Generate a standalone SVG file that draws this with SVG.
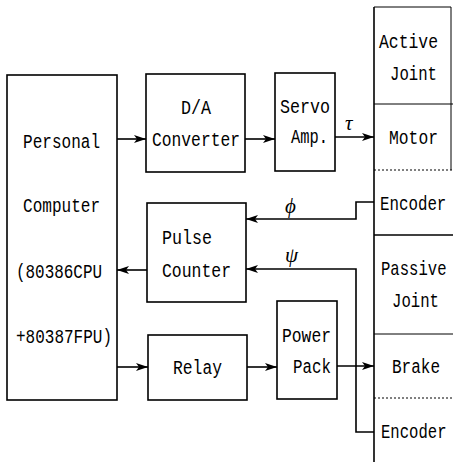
<svg xmlns="http://www.w3.org/2000/svg" width="453" height="462" viewBox="0 0 453 462">
<style>
.box{fill:none;stroke:#000;stroke-width:1.6}
.ln{fill:none;stroke:#000;stroke-width:1.6}
.sep{fill:none;stroke:#000;stroke-width:1}
.dot{fill:none;stroke:#000;stroke-width:1;stroke-dasharray:2,2}
.t{font-family:"Liberation Mono",monospace;font-size:20px;fill:#000}
.g{font-family:"Liberation Serif",serif;font-style:italic;font-size:21px;fill:#000}
</style>
<defs>
<marker id="ah" viewBox="0 0 12 8" refX="12" refY="4" markerWidth="12" markerHeight="8" markerUnits="userSpaceOnUse" orient="auto">
<path d="M0,0 L12,4 L0,8 L3,4 Z" fill="#000"/>
</marker>
</defs>
<rect width="453" height="462" fill="#fff"/>
<g id="pc">
<rect class="box" x="7" y="75" width="110" height="325"/>
<text class="t" x="23" y="148" textLength="77" lengthAdjust="spacingAndGlyphs">Personal</text>
<text class="t" x="23" y="212" textLength="77" lengthAdjust="spacingAndGlyphs">Computer</text>
<text class="t" x="16" y="278" textLength="86" lengthAdjust="spacingAndGlyphs">(80386CPU</text>
<text class="t" x="16" y="343" textLength="96" lengthAdjust="spacingAndGlyphs">+80387FPU)</text>
</g>
<g id="da">
<rect class="box" x="146" y="74" width="99" height="98"/>
<text class="t" x="181" y="114" textLength="30" lengthAdjust="spacingAndGlyphs">D/A</text>
<text class="t" x="152" y="146" textLength="88" lengthAdjust="spacingAndGlyphs">Converter</text>
</g>
<g id="servo">
<rect class="box" x="275" y="73" width="60" height="98"/>
<text class="t" x="280" y="113" textLength="50" lengthAdjust="spacingAndGlyphs">Servo</text>
<text class="t" x="291" y="143" textLength="37" lengthAdjust="spacingAndGlyphs">Amp.</text>
</g>
<g id="pulse">
<rect class="box" x="147" y="203" width="99" height="99"/>
<text class="t" x="162" y="244" textLength="50" lengthAdjust="spacingAndGlyphs">Pulse</text>
<text class="t" x="162" y="277" textLength="69" lengthAdjust="spacingAndGlyphs">Counter</text>
</g>
<g id="relay">
<rect class="box" x="148" y="335" width="99" height="65"/>
<text class="t" x="173" y="374" textLength="49" lengthAdjust="spacingAndGlyphs">Relay</text>
</g>
<g id="power">
<rect class="box" x="277" y="301" width="60" height="98"/>
<text class="t" x="282" y="342" textLength="49" lengthAdjust="spacingAndGlyphs">Power</text>
<text class="t" x="293" y="373" textLength="38" lengthAdjust="spacingAndGlyphs">Pack</text>
</g>
<g id="joints">
<path class="ln" d="M374,7 V462"/>
<path class="sep" d="M374,7 H451 V170"/>
<path class="sep" d="M374,104 H453"/>
<path class="dot" d="M374,170 H453"/>
<path class="ln" d="M374,235 H453"/>
<path class="sep" d="M374,334 H453"/>
<path class="dot" d="M374,398 H453"/>
<text class="t" x="379" y="48" textLength="59" lengthAdjust="spacingAndGlyphs">Active</text>
<text class="t" x="390" y="80" textLength="47" lengthAdjust="spacingAndGlyphs">Joint</text>
<text class="t" x="389" y="144" textLength="49" lengthAdjust="spacingAndGlyphs">Motor</text>
<text class="t" transform="translate(380,210) scale(0.79,1)">Encoder</text>
<text class="t" transform="translate(381,275) scale(0.78,1)">Passive</text>
<text class="t" x="392" y="307" textLength="47" lengthAdjust="spacingAndGlyphs">Joint</text>
<text class="t" x="392" y="373" textLength="48" lengthAdjust="spacingAndGlyphs">Brake</text>
<text class="t" transform="translate(381,438) scale(0.78,1)">Encoder</text>
</g>
<g id="connectors">
<path class="ln" d="M117,139 H146" marker-end="url(#ah)"/>
<path class="ln" d="M245,139 H275" marker-end="url(#ah)"/>
<path class="ln" d="M335,137 H374" marker-end="url(#ah)"/>
<path class="ln" d="M374,202 H356 V219 H246" marker-end="url(#ah)"/>
<path class="ln" d="M374,432 H356 V269 H246" marker-end="url(#ah)"/>
<path class="ln" d="M147,270 H117" marker-end="url(#ah)"/>
<path class="ln" d="M117,367 H148" marker-end="url(#ah)"/>
<path class="ln" d="M247,367 H277" marker-end="url(#ah)"/>
<path class="ln" d="M337,366 H374" marker-end="url(#ah)"/>
<text class="g" x="345" y="130">τ</text>
<text class="g" x="285" y="213">ϕ</text>
<text class="g" x="285" y="262">ψ</text>
</g>
</svg>
